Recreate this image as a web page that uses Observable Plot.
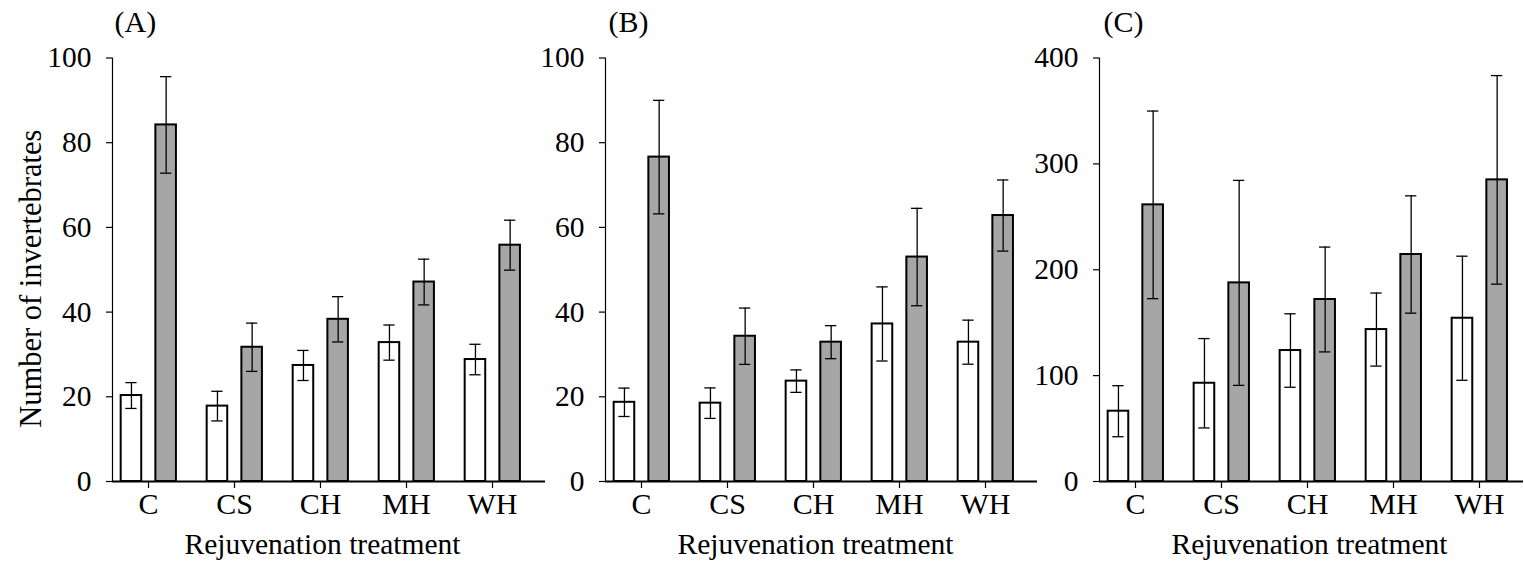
<!DOCTYPE html>
<html>
<head>
<meta charset="utf-8">
<script src="https://cdn.jsdelivr.net/npm/d3@7"></script>
<script src="https://cdn.jsdelivr.net/npm/@observablehq/plot@0.6"></script>
<style>
  html, body { margin: 0; padding: 0; background: #ffffff; }
  #wrap { position: relative; width: 1524px; height: 563px; overflow: hidden; }
  #wrap svg { position: absolute; left: 0; top: 0; }
</style>
</head>
<body>
<div id="wrap"></div>
<script>
// ---------- data ----------
const categories = ["C", "CS", "CH", "MH", "WH"];
const seriesNames = ["Open", "Shaded"];
const panelLabels = ["(A)", "(B)", "(C)"];
const yTicksAB = [0, 20, 40, 60, 80, 100];
const yTicksC = [0, 100, 200, 300, 400];
const yTitle = "Number of invertebrates";
const xTitle = "Rejuvenation treatment";

// Panel A
const meanA_open   = [20.3, 17.8, 27.4, 32.8, 28.8];
const seA_open     = [3.05, 3.5, 3.55, 4.15, 3.6];
const meanA_shaded = [84.2, 31.7, 38.3, 47.1, 55.8];
const seA_shaded   = [11.4, 5.7, 5.35, 5.4, 5.9];
// Panel B
const meanB_open   = [18.7, 18.5, 23.7, 37.2, 32.9];
const seB_open     = [3.35, 3.6, 2.65, 8.75, 5.2];
const meanB_shaded = [76.6, 34.3, 32.9, 53.0, 62.8];
const seB_shaded   = [13.4, 6.65, 3.9, 11.5, 8.4];
// Panel C
const meanC_open   = [66.4, 92.8, 123.7, 143.5, 154.2];
const seC_open     = [24.1, 42.2, 34.7, 34.5, 58.6];
const meanC_shaded = [261.3, 187.6, 171.9, 214.4, 284.9];
const seC_shaded   = [88.6, 96.8, 49.5, 55.4, 98.5];

// ---------- build tables ----------
function rows(mean, se, series) {
  return categories.map((c, i) => ({cat: c, series, mean: mean[i], lo: mean[i] - se[i], hi: mean[i] + se[i]}));
}
const panels = [
  {label: panelLabels[0], yMax: 100, ticks: yTicksAB, showYTitle: true,
   open: rows(meanA_open, seA_open, seriesNames[0]), shaded: rows(meanA_shaded, seA_shaded, seriesNames[1])},
  {label: panelLabels[1], yMax: 100, ticks: yTicksAB, showYTitle: false,
   open: rows(meanB_open, seB_open, seriesNames[0]), shaded: rows(meanB_shaded, seB_shaded, seriesNames[1])},
  {label: panelLabels[2], yMax: 400, ticks: yTicksC, showYTitle: false,
   open: rows(meanC_open, seC_open, seriesNames[0]), shaded: rows(meanC_shaded, seC_shaded, seriesNames[1])}
];

// ---------- layout ----------
const W = 1524, H = 563;
const plotTop = 57.5, plotBottom = 481;
const layout = [
  {axisX: 112,  axisEnd: 545,  first: 146,   step: 86.75, labelDx: 2},
  {axisX: 605,  axisEnd: 1037, first: 639.3, step: 86.7,  labelDx: 3},
  {axisX: 1099, axisEnd: 1523, first: 1134,  step: 86.7,  labelDx: 4}
];
const FONT = "'Liberation Serif', 'Times New Roman', Times, serif";
const GREY = "#a6a6a6";
const openSpan = [-27.7, -6.4], shadedSpan = [7.0, 28.3];
const capHalf = 6;

const wrap = document.getElementById("wrap");

panels.forEach((p, k) => {
  const L = layout[k];
  const half = L.step / 2;
  const openC = (openSpan[0] + openSpan[1]) / 2;
  const shadedC = (shadedSpan[0] + shadedSpan[1]) / 2;
  const errStyle = {stroke: "black", strokeWidth: 1.3};
  const marks = [
    Plot.barY(p.open, {x: "cat", y: "mean", fill: "white", stroke: "black", strokeWidth: 2,
      insetLeft: half + openSpan[0], insetRight: half - openSpan[1]}),
    Plot.barY(p.shaded, {x: "cat", y: "mean", fill: GREY, stroke: "black", strokeWidth: 2,
      insetLeft: half + shadedSpan[0], insetRight: half - shadedSpan[1]}),
    Plot.ruleX(p.open, {x: "cat", y1: "lo", y2: "hi", dx: openC, ...errStyle}),
    Plot.ruleX(p.shaded, {x: "cat", y1: "lo", y2: "hi", dx: shadedC, ...errStyle}),
    Plot.tickY(p.open, {x: "cat", y: "hi", insetLeft: half + openC - capHalf, insetRight: half - openC - capHalf, ...errStyle}),
    Plot.tickY(p.open, {x: "cat", y: "lo", insetLeft: half + openC - capHalf, insetRight: half - openC - capHalf, ...errStyle}),
    Plot.tickY(p.shaded, {x: "cat", y: "hi", insetLeft: half + shadedC - capHalf, insetRight: half - shadedC - capHalf, ...errStyle}),
    Plot.tickY(p.shaded, {x: "cat", y: "lo", insetLeft: half + shadedC - capHalf, insetRight: half - shadedC - capHalf, ...errStyle}),
    Plot.frame({anchor: "left", stroke: "black", strokeWidth: 1.2}),
    Plot.ruleY([0], {stroke: "black", strokeWidth: 2}),
    Plot.axisY({ticks: p.ticks, tickSize: 6, tickPadding: 15, label: null, stroke: "black", strokeWidth: 1.2, fontSize: 29.5}),
    Plot.axisX({tickSize: 7, tickPadding: 4, label: null, stroke: "black", strokeWidth: 1.2, fontSize: 30}),
    Plot.text([{cat: categories[2]}], {x: "cat", frameAnchor: "bottom", text: () => xTitle,
      lineAnchor: "bottom", dy: 72, dx: 2, fontSize: 29.5}),
    Plot.text([p.label], {frameAnchor: "top-left", text: d => d, textAnchor: "start",
      lineAnchor: "bottom", dx: L.labelDx, dy: -26, fontSize: 30})
  ];
  if (p.showYTitle) {
    marks.push(Plot.text([yTitle], {frameAnchor: "left", text: d => d, rotate: -90,
      textAnchor: "middle", lineAnchor: "bottom", dx: 40 - L.axisX, dy: 9, fontSize: 30.5}));
  }
  const svg = Plot.plot({
    width: W, height: H,
    marginLeft: L.axisX, marginRight: W - L.axisEnd,
    marginTop: plotTop, marginBottom: H - plotBottom,
    style: {background: "transparent", fontFamily: FONT, fontSize: "30px", color: "black", overflow: "visible"},
    x: {type: "band", domain: categories, range: [L.first - half, L.first + 4.5 * L.step], padding: 0, label: null},
    y: {domain: [0, p.yMax], label: null},
    marks
  });
  wrap.appendChild(svg);
});
</script>
</body>
</html>
